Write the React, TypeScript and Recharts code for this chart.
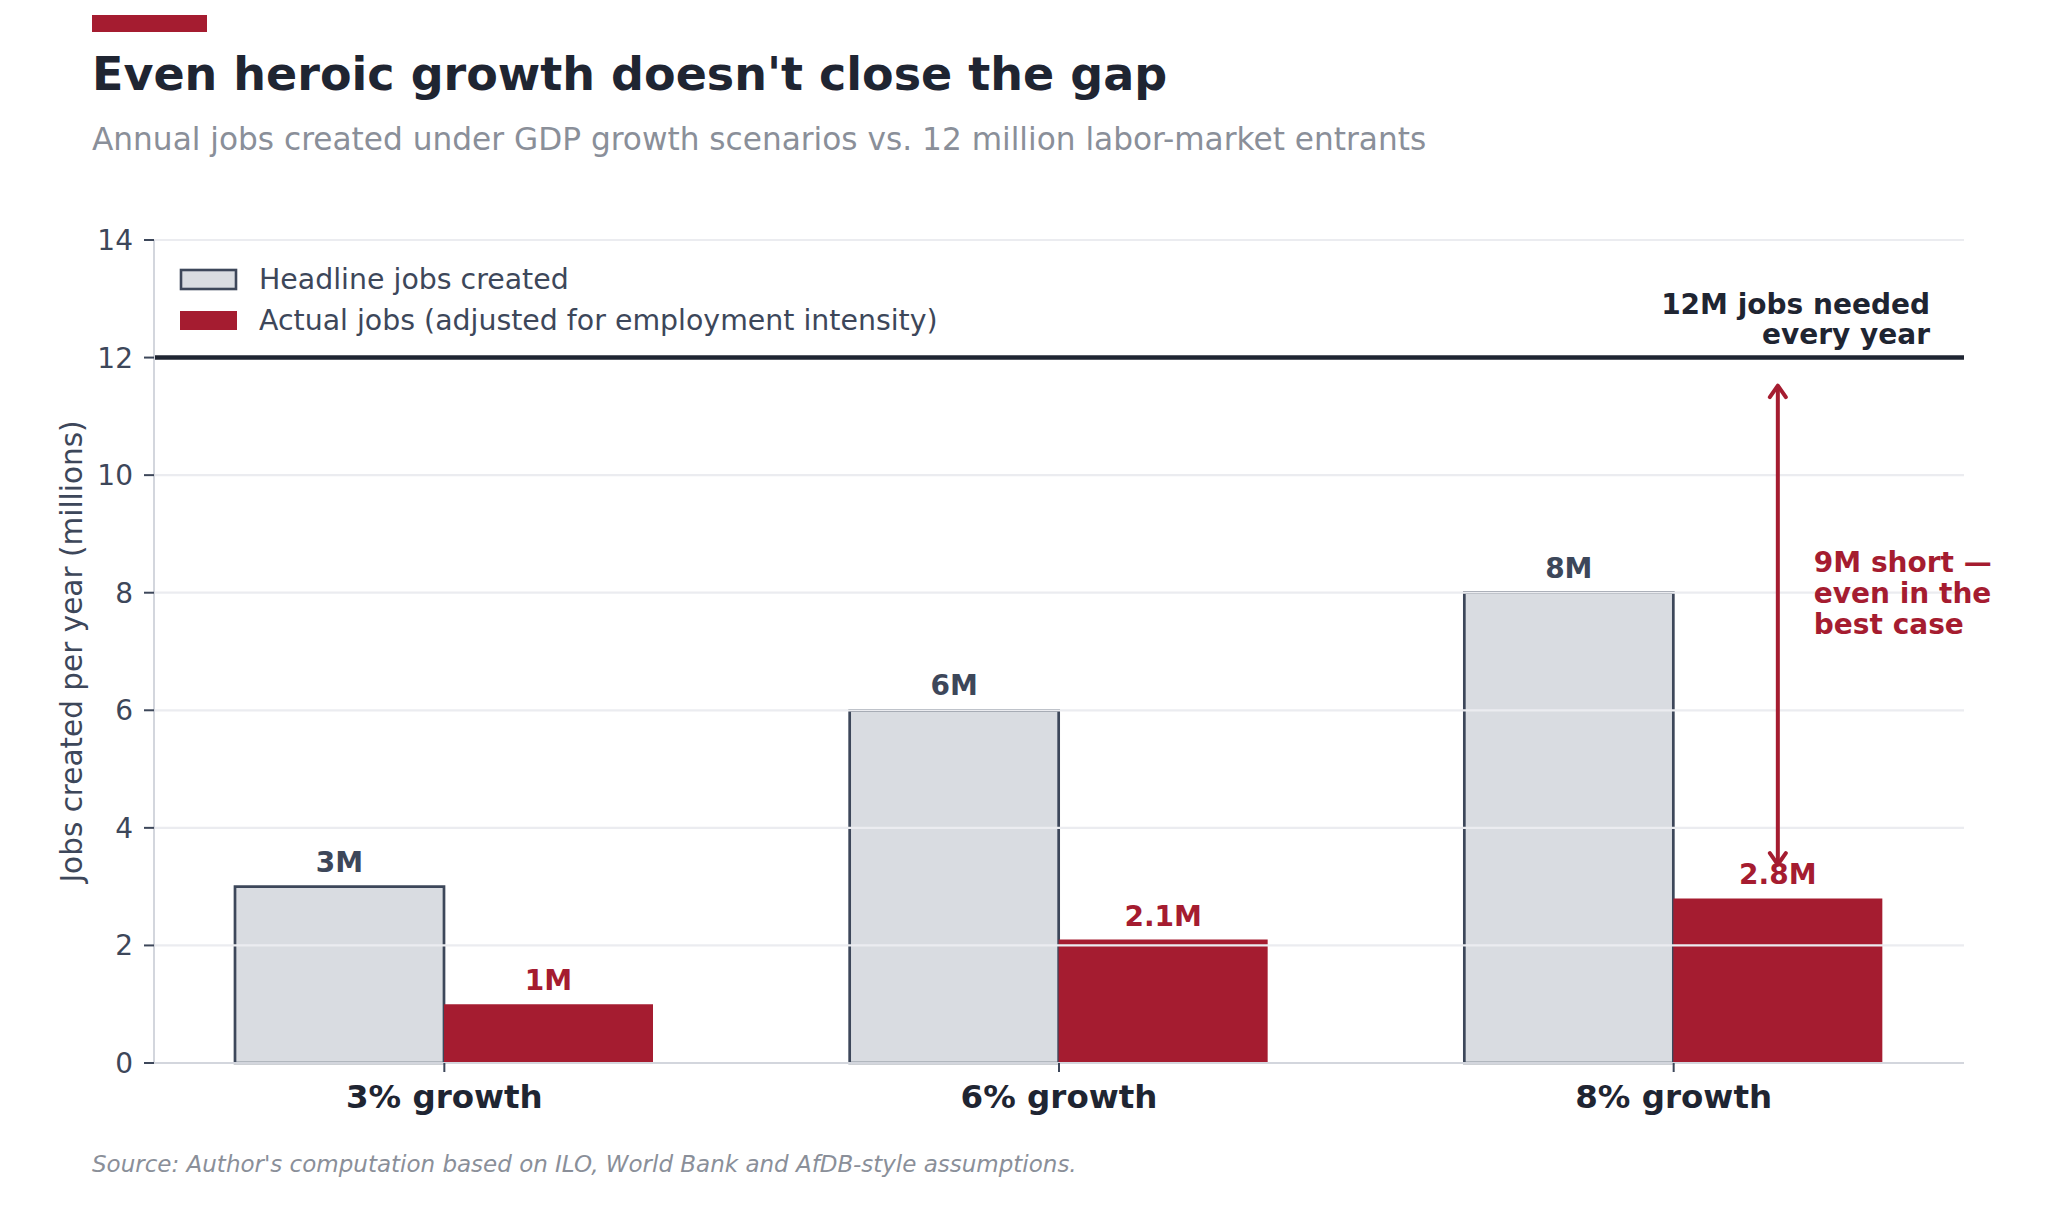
import React from 'react';
import { BarChart, Bar, XAxis, YAxis, CartesianGrid, ReferenceLine, LabelList } from 'recharts';

// ---- data ----
const categories = ['3% growth', '6% growth', '8% growth'];
const headlineJobs = [3, 6, 8];
const actualJobs = [1, 2.1, 2.8];
const yTicks = [0, 2, 4, 6, 8, 10, 12, 14];
const jobsNeeded = 12;
const arrowTop = 11.55;
const arrowBottom = 3.35;
const noteCenter = 8;
const seriesNames = ['Headline jobs created', 'Actual jobs (adjusted for employment intensity)'];
const noteLines = ['9M short \u2014', 'even in the', 'best case'];
const targetLines = ['12M jobs needed', 'every year'];

const data = categories.map((c, i) => ({ category: c, headline: headlineJobs[i], actual: actualJobs[i] }));

// ---- style ----
const FONT = '"DejaVu Sans", Verdana, sans-serif';
const RED = '#a51c30';
const GRAY_FILL = '#d9dce1';
const SLATE = '#3d475a';
const DARK = '#1f2532';
const MUTED = '#8a8f99';
const GRID = '#ebecf0';
const AXIS = '#d3d6dd';

const fmt = (v: any) => `${v}M`;

const renderYLabel = (props: any) => {
  const vb = props.viewBox || props;
  const cx = vb.x + 18;
  const cy = vb.y + vb.height / 2;
  return (
    <text
      x={cx}
      y={cy}
      transform={`rotate(-90, ${cx}, ${cy})`}
      textAnchor="middle"
      dominantBaseline="central"
      fontFamily={FONT}
      fontSize={29.5}
      fill={SLATE}
    >
      Jobs created per year (millions)
    </text>
  );
};

const renderTargetLabel = (props: any) => {
  const vb = props.viewBox || props;
  const rx = vb.x + vb.width - 34;
  const y = vb.y;
  return (
    <g>
      <text x={rx} y={y - 44} textAnchor="end" fontFamily={FONT} fontSize={28} fontWeight="bold" fill={DARK}>
        {targetLines[0]}
      </text>
      <text x={rx} y={y - 14} textAnchor="end" fontFamily={FONT} fontSize={28} fontWeight="bold" fill={DARK}>
        {targetLines[1]}
      </text>
    </g>
  );
};

const renderGap = (props: any) => {
  const index = props.index;
  if (index !== actualJobs.length - 1) return null;
  const vb = props.viewBox && props.viewBox.width !== undefined ? props.viewBox : props;
  const x = Number(vb.x);
  const y = Number(vb.y);
  const width = Number(vb.width);
  const height = Number(vb.height);
  const v = actualJobs[index];
  const base = y + height;
  const ppu = height / v;
  const yAt = (val: number) => base - val * ppu;
  const cx = x + width / 2;
  const t = yAt(arrowTop);
  const b = yAt(arrowBottom);
  const yc = yAt(noteCenter);
  return (
    <g>
      <line x1={cx} x2={cx} y1={t + 2} y2={b - 2} stroke={RED} strokeWidth={4} />
      <polyline
        points={`${cx - 8},${t + 13} ${cx},${t + 1.5} ${cx + 8},${t + 13}`}
        fill="none"
        stroke={RED}
        strokeWidth={4}
        strokeLinecap="round"
        strokeLinejoin="round"
      />
      <polyline
        points={`${cx - 8},${b - 13} ${cx},${b - 1.5} ${cx + 8},${b - 13}`}
        fill="none"
        stroke={RED}
        strokeWidth={4}
        strokeLinecap="round"
        strokeLinejoin="round"
      />
      <text x={cx + 36} y={yc} fontFamily={FONT} fontSize={28} fontWeight="bold" fill={RED}>
        <tspan x={cx + 36} dy={-21}>{noteLines[0]}</tspan>
        <tspan x={cx + 36} dy={31}>{noteLines[1]}</tspan>
        <tspan x={cx + 36} dy={31}>{noteLines[2]}</tspan>
      </text>
    </g>
  );
};

export default function App() {
  return (
    <div style={{ position: 'absolute', left: 0, top: 0, width: 2046, height: 1208, background: '#ffffff', overflow: 'hidden' }}>
      <div style={{ position: 'absolute', left: 0, top: 0 }}>
        <BarChart
          width={2046}
          height={1208}
          data={data}
          margin={{ top: 240, right: 82, bottom: 65, left: 54 }}
          barGap={0}
        >
          <XAxis
            dataKey="category"
            height={80}
            padding={{ left: -17, right: -17 }}
            interval={0}
            axisLine={{ stroke: AXIS, strokeWidth: 2 }}
            tickLine={{ stroke: SLATE, strokeWidth: 2 }}
            tickSize={9}
            tickMargin={13}
            tick={{ fill: DARK, fontSize: 32.5, fontWeight: 'bold', fontFamily: FONT }}
          />
          <YAxis
            domain={[0, 14]}
            ticks={yTicks}
            width={100}
            interval={0}
            axisLine={{ stroke: AXIS, strokeWidth: 2 }}
            tickLine={{ stroke: SLATE, strokeWidth: 2 }}
            tickSize={10}
            tickMargin={11}
            tick={{ fill: SLATE, fontSize: 28, fontFamily: FONT }}
            label={renderYLabel}
          />
          <Bar dataKey="headline" fill={GRAY_FILL} stroke={SLATE} strokeWidth={2.7} barSize={209} isAnimationActive={false}>
            <LabelList
              dataKey="headline"
              position="top"
              offset={15}
              formatter={fmt}
              fill={SLATE}
              fontSize={28}
              fontWeight="bold"
              fontFamily={FONT}
            />
          </Bar>
          <Bar dataKey="actual" fill={RED} barSize={209} isAnimationActive={false}>
            <LabelList
              dataKey="actual"
              position="top"
              offset={14}
              formatter={fmt}
              fill={RED}
              fontSize={28}
              fontWeight="bold"
              fontFamily={FONT}
            />
            <LabelList dataKey="actual" content={renderGap} />
          </Bar>
          <CartesianGrid vertical={false} stroke={GRID} strokeWidth={2.2} zIndex={350} />
          <ReferenceLine y={jobsNeeded} stroke={DARK} strokeWidth={4.5} label={renderTargetLabel} />
        </BarChart>
      </div>
      <svg
        width={2046}
        height={1208}
        style={{ position: 'absolute', left: 0, top: 0, pointerEvents: 'none' }}
      >
        <rect x={92} y={15} width={115} height={17} fill={RED} />
        <text x={92} y={90} fontFamily={FONT} fontSize={46} fontWeight="bold" fill={DARK}>
          Even heroic growth doesn't close the gap
        </text>
        <text x={92} y={150} fontFamily={FONT} fontSize={31.2} fill={MUTED}>
          Annual jobs created under GDP growth scenarios vs. 12 million labor-market entrants
        </text>
        <rect x={181} y={270} width={55} height={19} fill={GRAY_FILL} stroke={SLATE} strokeWidth={2.6} />
        <rect x={180} y={311} width={57} height={19} fill={RED} />
        <text x={259} y={289} fontFamily={FONT} fontSize={28.4} fill={SLATE}>{seriesNames[0]}</text>
        <text x={259} y={330} fontFamily={FONT} fontSize={28.4} fill={SLATE}>{seriesNames[1]}</text>
        <text x={92} y={1172} fontFamily={FONT} fontSize={23} fontStyle="italic" fill={MUTED}>
          Source: Author's computation based on ILO, World Bank and AfDB-style assumptions.
        </text>
      </svg>
    </div>
  );
}
